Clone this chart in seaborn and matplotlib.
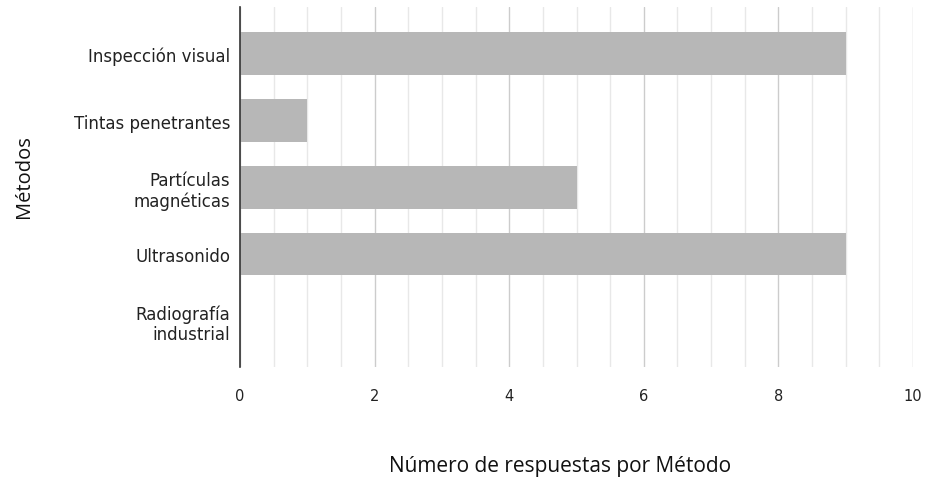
import matplotlib
matplotlib.use("Agg")
import matplotlib.pyplot as plt
from matplotlib.ticker import MultipleLocator
import seaborn as sns
import pandas as pd

metodos = ["Inspección visual", "Tintas penetrantes", "Partículas\nmagnéticas",
           "Ultrasonido", "Radiografía\nindustrial"]
respuestas = [9, 1, 5, 9, 0]
x_ticks = [0, 2, 4, 6, 8, 10]

df = pd.DataFrame({"Métodos": metodos, "Respuestas": respuestas})

sns.set_theme(style="white")
plt.rcParams['font.family'] = ['DejaVu Sans']
plt.rcParams['font.stretch'] = 'normal'

fig = plt.figure(figsize=(9.29, 4.85), dpi=100)
ax = fig.add_axes([240/929, 1-368/485, (913-240)/929, 360/485])

sns.barplot(data=df, y="Métodos", x="Respuestas", orient="h", color="#b7b7b7",
            saturation=1, width=0.64, ax=ax, linewidth=0, zorder=2)

ax.set_xlim(0, 10)
ax.set_ylim(4.69, -0.7)
ax.set_xticks(x_ticks)
ax.xaxis.set_minor_locator(MultipleLocator(0.5))
ax.grid(axis="x", which="major", color="#cccccc", linewidth=1, zorder=0)
ax.grid(axis="x", which="minor", color="#e8e8e8", linewidth=1, zorder=0)
ax.set_axisbelow(True)
for s in ["top", "right", "bottom"]:
    ax.spines[s].set_visible(False)
ax.spines["left"].set_color("#333333")
ax.spines["left"].set_linewidth(1.2)
ax.spines["left"].set_zorder(5)
ax.tick_params(axis="both", which="both", length=0, colors="#222222")
ax.tick_params(axis="x", pad=15, labelsize=10.5)
ax.tick_params(axis="y", pad=7, labelsize=12)
for lbl in ax.get_yticklabels():
    lbl.set_linespacing(1.15)

ax.set_xlabel("")
ax.set_ylabel("")
fig.text(560/929, 1-467/485, "Número de respuestas por Método", fontsize=15,
         family=["Open Sans", "DejaVu Sans"], fontweight='medium',
         color="#111111", ha="center", va="center")
fig.text(24/929, 1-177/485, "Métodos", fontsize=14.5, rotation=90,
         family=["Open Sans", "DejaVu Sans"], fontweight='medium',
         color="#111111", ha="center", va="center")

fig.savefig("out.png", dpi=100, facecolor="white")
